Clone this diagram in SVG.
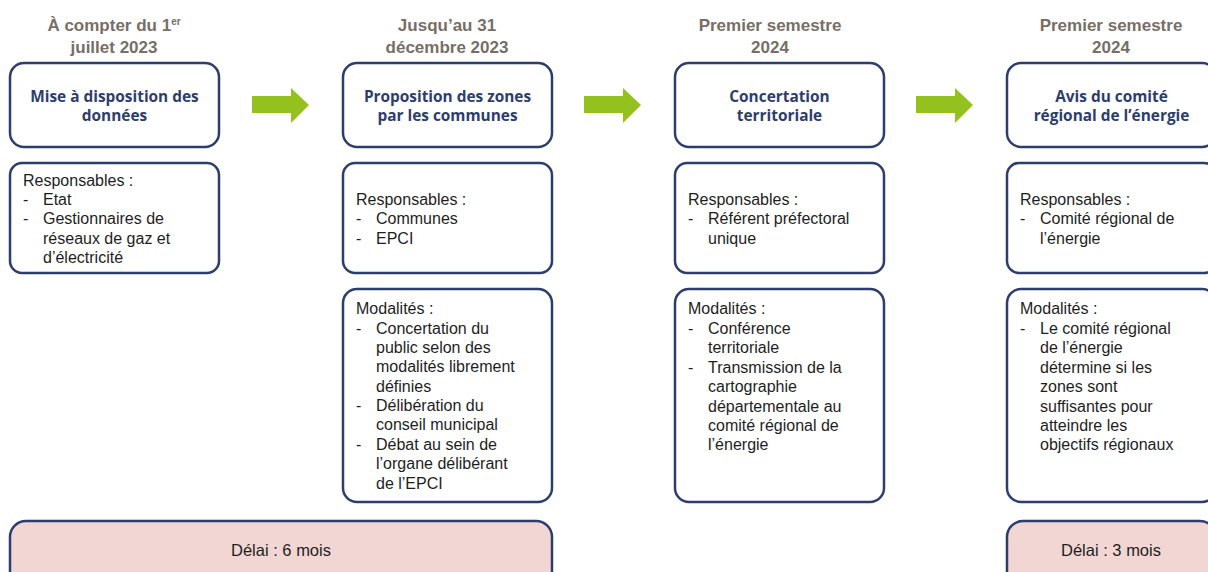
<svg xmlns="http://www.w3.org/2000/svg" width="1208" height="572" viewBox="0 0 1208 572">
<style>
.box{fill:#fff;stroke:#2d3d6d;stroke-width:2.5}
.delay{fill:#f2d6d3;stroke:#2d3d6d;stroke-width:2.5}
.hdr{font-family:"Liberation Sans",Arial,sans-serif;font-weight:bold;font-size:17px;fill:#776f66;text-anchor:middle}
.ttl{font-family:"Open Sans","Noto Sans",sans-serif;font-weight:bold;font-size:15.4px;fill:#2d3d6d;text-anchor:middle}
.body{font-family:"Liberation Sans",Arial,sans-serif;font-size:16px;fill:#1e1e1e}
.dl{font-family:"Liberation Sans",Arial,sans-serif;font-size:16.5px;fill:#1e1e1e;text-anchor:middle}
.arr{fill:#95c11f}
</style>
<rect width="1208" height="572" fill="#fff"/>

<!-- headers -->
<g id="dates">
<text class="hdr" x="114" y="31">À compter du 1<tspan font-size="10" dy="-6">er</tspan></text>
<text class="hdr" x="114" y="53">juillet 2023</text>
<text class="hdr" x="447" y="31">Jusqu’au 31</text>
<text class="hdr" x="447" y="53">décembre 2023</text>
<text class="hdr" x="770" y="31">Premier semestre</text>
<text class="hdr" x="770" y="53">2024</text>
<text class="hdr" x="1111" y="31">Premier semestre</text>
<text class="hdr" x="1111" y="53">2024</text>
</g>

<!-- column 1 -->
<g id="step1">
<rect class="box" x="10" y="63" width="209" height="84" rx="14"/>
<text class="ttl" x="114.5" y="102">Mise à disposition des</text>
<text class="ttl" x="114.5" y="121">données</text>
</g>
<g id="resp1">
<rect class="box" x="10" y="163" width="209" height="110" rx="12"/>
<text class="body" x="23" y="186">Responsables :</text>
<text class="body" x="23" y="205">-</text><text class="body" x="43" y="205">Etat</text>
<text class="body" x="23" y="224">-</text><text class="body" x="43" y="224">Gestionnaires de</text>
<text class="body" x="43" y="244">réseaux de gaz et</text>
<text class="body" x="43" y="263">d’électricité</text>
</g>

<!-- column 2 -->
<g id="step2">
<rect class="box" x="343" y="63" width="209" height="84" rx="14"/>
<text class="ttl" x="447.5" y="102">Proposition des zones</text>
<text class="ttl" x="447.5" y="121">par les communes</text>
</g>
<g id="resp2">
<rect class="box" x="343" y="163" width="209" height="110" rx="12"/>
<text class="body" x="356" y="205">Responsables :</text>
<text class="body" x="356" y="224">-</text><text class="body" x="376" y="224">Communes</text>
<text class="body" x="356" y="244">-</text><text class="body" x="376" y="244">EPCI</text>
</g>
<g id="mod2">
<rect class="box" x="343" y="289" width="209" height="213" rx="14"/>
<text class="body" x="356" y="314">Modalités :</text>
<text class="body" x="356" y="334">-</text><text class="body" x="376" y="334">Concertation du</text>
<text class="body" x="376" y="353">public selon des</text>
<text class="body" x="376" y="372">modalités librement</text>
<text class="body" x="376" y="392">définies</text>
<text class="body" x="356" y="411">-</text><text class="body" x="376" y="411">Délibération du</text>
<text class="body" x="376" y="430">conseil municipal</text>
<text class="body" x="356" y="450">-</text><text class="body" x="376" y="450">Débat au sein de</text>
<text class="body" x="376" y="469">l’organe délibérant</text>
<text class="body" x="376" y="489">de l’EPCI</text>
</g>

<!-- column 3 -->
<g id="step3">
<rect class="box" x="675" y="63" width="209" height="84" rx="14"/>
<text class="ttl" x="779.5" y="102">Concertation</text>
<text class="ttl" x="779.5" y="121">territoriale</text>
</g>
<g id="resp3">
<rect class="box" x="675" y="163" width="209" height="110" rx="12"/>
<text class="body" x="688" y="205">Responsables :</text>
<text class="body" x="688" y="224">-</text><text class="body" x="708" y="224">Référent préfectoral</text>
<text class="body" x="708" y="244">unique</text>
</g>
<g id="mod3">
<rect class="box" x="675" y="289" width="209" height="213" rx="14"/>
<text class="body" x="688" y="314">Modalités :</text>
<text class="body" x="688" y="334">-</text><text class="body" x="708" y="334">Conférence</text>
<text class="body" x="708" y="353">territoriale</text>
<text class="body" x="688" y="373">-</text><text class="body" x="708" y="373">Transmission de la</text>
<text class="body" x="708" y="392">cartographie</text>
<text class="body" x="708" y="412">départementale au</text>
<text class="body" x="708" y="431">comité régional de</text>
<text class="body" x="708" y="450">l’énergie</text>
</g>

<!-- column 4 -->
<g id="step4">
<rect class="box" x="1007" y="63" width="209" height="84" rx="14"/>
<text class="ttl" x="1111.5" y="102">Avis du comité</text>
<text class="ttl" x="1111.5" y="121">régional de l’énergie</text>
</g>
<g id="resp4">
<rect class="box" x="1007" y="163" width="209" height="110" rx="12"/>
<text class="body" x="1020" y="205">Responsables :</text>
<text class="body" x="1020" y="224">-</text><text class="body" x="1040" y="224">Comité régional de</text>
<text class="body" x="1040" y="244">l’énergie</text>
</g>
<g id="mod4">
<rect class="box" x="1007" y="289" width="209" height="213" rx="14"/>
<text class="body" x="1020" y="314">Modalités :</text>
<text class="body" x="1020" y="334">-</text><text class="body" x="1040" y="334">Le comité régional</text>
<text class="body" x="1040" y="353">de l’énergie</text>
<text class="body" x="1040" y="373">détermine si les</text>
<text class="body" x="1040" y="392">zones sont</text>
<text class="body" x="1040" y="412">suffisantes pour</text>
<text class="body" x="1040" y="431">atteindre les</text>
<text class="body" x="1040" y="450">objectifs régionaux</text>
</g>

<!-- delays -->
<g id="delay1">
<rect class="delay" x="10" y="521" width="542" height="70" rx="16"/>
<text class="dl" x="281" y="556">Délai : 6 mois</text>
</g>
<g id="delay2">
<rect class="delay" x="1007" y="521" width="209" height="70" rx="16"/>
<text class="dl" x="1111" y="556">Délai : 3 mois</text>
</g>

<!-- connectors -->
<g id="connectors">
<polygon class="arr" points="252,96 291,96 291,88 309,105 291,123 291,113 252,113"/>
<polygon class="arr" points="584,96 623,96 623,88 641,105 623,123 623,113 584,113"/>
<polygon class="arr" points="916,96 955,96 955,88 973,105 955,123 955,113 916,113"/>
</g>
</svg>
